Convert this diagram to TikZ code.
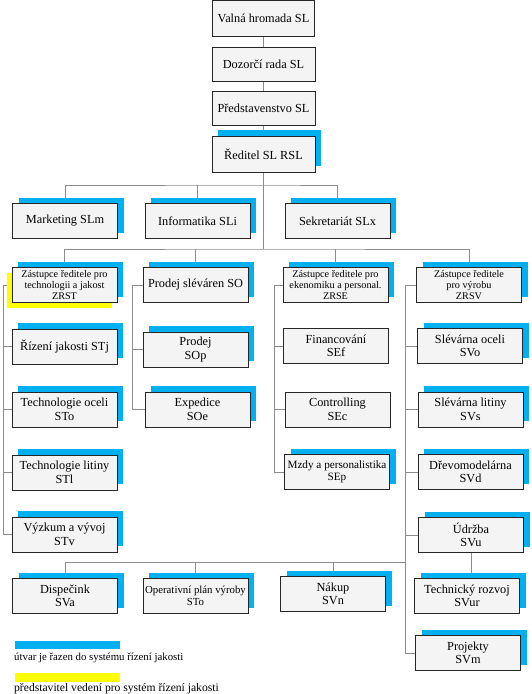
\documentclass[tikz,border=0pt]{standalone}
\usepackage{fontspec}
\setmainfont{Liberation Serif}
\newfontfamily\orgfont{Liberation Serif}
\usepackage{tikz}
\usetikzlibrary{shadows,backgrounds}
\definecolor{OrgBlue}{HTML}{00B0F0}
\definecolor{OrgYellow}{HTML}{FFFF00}
\definecolor{OrgGray}{HTML}{F4F4F4}
\definecolor{OrgLine}{HTML}{8C8C8C}

\begin{document}
\begin{tikzpicture}[x=1pt,y=-1pt,every node/.style={font=\orgfont\fontsize{12.3}{13.5}\selectfont},
  box/.style={draw=black!85,line width=0.9pt,fill=OrgGray,minimum width=105pt,minimum height=35pt,inner sep=1pt,align=center},
  qbox/.style={box,drop shadow={shadow xshift=6pt,shadow yshift=6pt,fill=OrgBlue,opacity=1}},
  small/.style={font=\orgfont\fontsize{10.2}{11.3}\selectfont},
  link/.style={OrgLine,line width=0.8pt}]
\useasboundingbox (0,0) rectangle (531,694);
% vedeni
\node[box,minimum width=102pt,minimum height=36pt] (valna) at (263.5,18) {Valná hromada SL};
\node[box,minimum width=103pt,minimum height=34pt] (dozor) at (263.5,64) {Dozorčí rada SL};
\node[box,minimum width=103pt,minimum height=34pt] (pred) at (263.5,108) {Představenstvo SL};
\node[qbox,minimum width=103pt,minimum height=36pt] (ridi) at (263.5,154) {Ředitel SL RSL};
\node[qbox] (mark) at (65,221) {Marketing SLm};
\node[qbox] (info) at (197.5,221) {Informatika SLi};
\node[qbox] (sekr) at (337.5,221) {Sekretariát SLx};
% zastupci
\node[qbox,small,drop shadow={shadow xshift=-5pt,shadow yshift=-5pt,fill=OrgYellow,opacity=1}] (zrst) at (64.5,285) {Zástupce ředitele pro\\technologii a jakost\\ZRST};
\node[qbox] (prso) at (195.5,285) {Prodej sléváren SO};
\node[qbox,small] (zrse) at (335.5,285) {Zástupce ředitele pro\\ekenomiku a personal.\\ZRSE};
\node[qbox,small] (zrsv) at (469,285) {Zástupce ředitele\\pro výrobu\\ZRSV};
% technologie
\node[qbox] (stj) at (64.5,346.5) {Řízení jakosti STj};
\node[qbox] (sto) at (64.5,409.5) {Technologie oceli\\STo};
\node[qbox] (stl) at (64.5,472.5) {Technologie litiny\\STl};
\node[qbox] (stv) at (64.5,534.5) {Výzkum a vývoj\\STv};
% prodej
\node[qbox] (sop) at (195.5,349.5) {Prodej\\SOp};
\node[qbox] (soe) at (197.5,409.5) {Expedice\\SOe};
% ekonomika
\node[box] (sef) at (336,346) {Financování\\SEf};
\node[box] (sec) at (337.5,409.5) {Controlling\\SEc};
\node[qbox,font=\orgfont\fontsize{11.2}{12.5}\selectfont] (sep) at (337,472) {Mzdy a personalistika\\SEp};
% vyroba
\node[qbox] (svo) at (470,346) {Slévárna oceli\\SVo};
\node[qbox] (svs) at (470.5,409.5) {Slévárna litiny\\SVs};
\node[qbox] (svd) at (470.5,472) {Dřevomodelárna\\SVd};
\node[qbox] (svu) at (471,535) {Údržba\\SVu};
\node[qbox] (svur) at (467,596) {Technický rozvoj\\SVur};
\node[qbox] (svm) at (468,653) {Projekty\\SVm};
\node[qbox] (sva) at (65,596) {Dispečink\\SVa};
\node[qbox,font=\orgfont\fontsize{10.8}{12.5}\selectfont] (opv) at (195.5,596) {Operativní plán výroby\\STo};
\node[qbox] (svn) at (333,594) {Nákup\\SVn};
% legenda
\fill[OrgBlue] (15,641) rectangle (120,649);
\node[anchor=west,inner sep=0pt,font=\orgfont\fontsize{10.8}{12}\selectfont] (leg1) at (14,658) {útvar je řazen do systému řízení jakosti};
\fill[OrgYellow] (15,673) rectangle (120,682);
\node[anchor=west,inner sep=0pt,font=\orgfont\fontsize{11.6}{12}\selectfont] (leg2) at (14,689) {představitel vedení pro systém řízení jakosti};
\begin{scope}[on background layer]
\coordinate (b2) at (263.5,185);
\coordinate (b3) at (263.5,249);
\coordinate (b4) at (405,562);
\coordinate (cl) at (3,0);
\coordinate (cs) at (132,0);
\coordinate (ce) at (274,0);
\coordinate (cv) at (405,0);
\draw[link] (valna) -- (dozor) -- (pred) -- (ridi) -- (b3);
\draw[link] (mark.north) |- (b2) -| (sekr.north);
\draw[link] (info.north) -- (info.north |- b2);
\draw[link] (zrst.north) |- (b3) -| (zrsv.north);
\draw[link] (prso.north) -- (prso.north |- b3);
\draw[link] (zrse.north) -- (zrse.north |- b3);
\draw[link] (zrst.west) -- (zrst.west -| cl) |- (stv.west);
\draw[link] (stj.west) -- (stj.west -| cl);
\draw[link] (sto.west) -- (sto.west -| cl);
\draw[link] (stl.west) -- (stl.west -| cl);
\draw[link] (prso.west) -- (prso.west -| cs) |- (soe.west);
\draw[link] (sop.west) -- (sop.west -| cs);
\draw[link] (zrse.west) -- (zrse.west -| ce) |- (sep.west);
\draw[link] (sef.west) -- (sef.west -| ce);
\draw[link] (sec.west) -- (sec.west -| ce);
\draw[link] (zrsv.west) -- (zrsv.west -| cv) |- (svm.west);
\draw[link] (svo.west) -- (svo.west -| cv);
\draw[link] (svs.west) -- (svs.west -| cv);
\draw[link] (svd.west) -- (svd.west -| cv);
\draw[link] (svu.west) -- (svu.west -| cv);
\draw[link] (svu.south) -- (svu.south |- svur.north);
\draw[link] (sva.north) |- (b4);
\draw[link] (opv.north) -- (opv.north |- b4);
\draw[link] (svn.north) -- (svn.north |- b4);
\end{scope}
\end{tikzpicture}
\end{document}
